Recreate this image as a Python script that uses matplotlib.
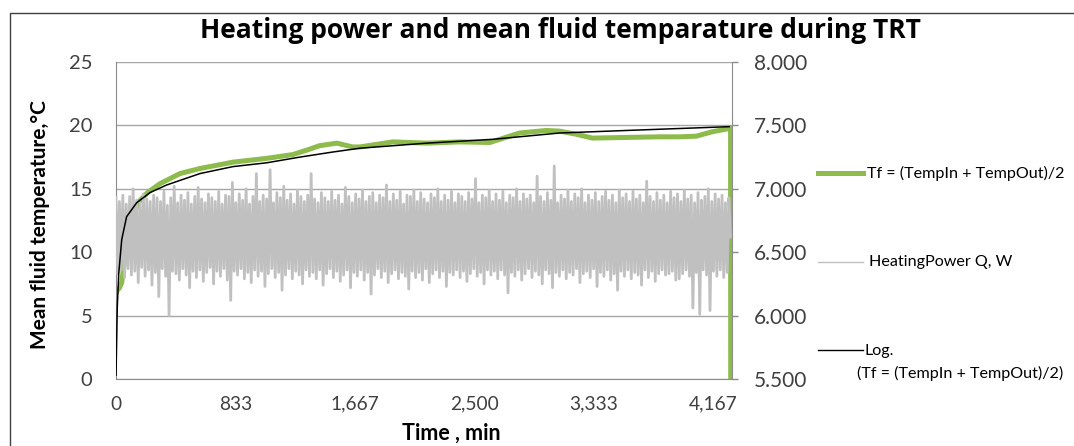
import numpy as np
import matplotlib
matplotlib.use("Agg")
import matplotlib.pyplot as plt
from matplotlib.lines import Line2D
from matplotlib.patches import Rectangle

plt.rcParams['font.family'] = ['Lato', 'DejaVu Sans']

# ---------------- data ----------------
title = "Heating power and mean fluid temparature during TRT"
ylabel_left = "Mean fluid temperature,°C"
xlabel = "Time , min"

x_ticks = [0, 833, 1667, 2500, 3333, 4167]
x_tick_labels = ["0", "833", "1,667", "2,500", "3,333", "4,167"]
left_ticks = [0, 5, 10, 15, 20, 25]
right_ticks = [5500, 6000, 6500, 7000, 7500, 8000]
right_tick_labels = ["5.500", "6.000", "6.500", "7.000", "7.500", "8.000"]

# mean fluid temperature Tf
tf_time = [0, 10, 25, 40, 60, 100, 153, 220, 306, 446, 585, 815, 1050, 1233, 1330,
           1420, 1540, 1650, 1700, 1930, 2166, 2396, 2605, 2675, 2814, 3000, 3092,
           3210, 3322, 3558, 3790, 3928, 4046, 4158, 4275, 4285, 4286]
tf_value = [6.8, 7.0, 7.2, 7.6, 9.5, 12.0, 13.9, 14.7, 15.4, 16.2, 16.6, 17.1, 17.4,
            17.7, 18.05, 18.4, 18.6, 18.3, 18.3, 18.7, 18.6, 18.7, 18.65, 18.9, 19.4,
            19.6, 19.55, 19.3, 19.0, 19.05, 19.1, 19.1, 19.15, 19.5, 19.75, 19.8, 0.0]

# logarithmic trend line
log_time = [0, 9, 19, 40, 74, 144, 237, 353, 585, 815, 1050, 1282, 1511, 1700, 2166,
            2625, 3092, 3558, 4275]
log_value = [0.3, 5.7, 8.3, 11.0, 12.8, 13.9, 14.7, 15.3, 16.2, 16.75, 17.05, 17.5,
             17.9, 18.2, 18.6, 18.9, 19.4, 19.6, 19.9]

# heating power Q, W (hand-read samples of the noisy trace)
power_end_time = 4285
heating_power = [
    6930, 6330, 6900, 6360, 6950, 6300, 6880, 6370, 6940, 6320, 7000, 6350, 6910, 6260, 6890, 6380, 6960, 6310, 6920, 6360,
    6900, 6240, 6950, 6340, 6930, 6150, 6900, 6370, 6980, 6310, 6870, 6000, 6930, 6350, 7020, 6330, 6890, 6280, 6950, 6370,
    6910, 6320, 6970, 6220, 6880, 6350, 6940, 6300, 7010, 6360, 6920, 6270, 6890, 6340, 6960, 6380, 6930, 6250, 6900, 6350,
    6980, 6310, 6880, 6370, 6950, 6280, 6940, 6120, 7050, 6350, 6890, 6320, 6960, 6370, 6910, 6290, 7000, 6340, 6880, 6260,
    6940, 6360, 7120, 6310, 6900, 6350, 6950, 6230, 6920, 6330, 7150, 6370, 6890, 6300, 6970, 6340, 6930, 6200, 7020, 6320,
    6910, 6370, 6960, 6290, 6880, 6350, 6990, 6320, 6940, 6250, 6900, 6360, 6950, 6310, 7120, 6340, 6920, 6290, 6890, 6360,
    6970, 6240, 6930, 6330, 6900, 6370, 6980, 6300, 6910, 6350, 6950, 6270, 6880, 6320, 7010, 6360, 6940, 6220, 6890, 6340,
    6960, 6310, 6920, 6360, 6990, 6280, 6900, 6340, 6940, 6170, 6970, 6320, 6890, 6370, 6950, 6300, 6930, 6350, 7030, 6260,
    6900, 6330, 6960, 6360, 6910, 6290, 6980, 6340, 6880, 6310, 6950, 6210, 6940, 6350, 6990, 6300, 6900, 6340, 6970, 6280,
    6920, 6370, 6890, 6260, 6960, 6330, 6930, 6360, 7000, 6300, 6900, 6350, 6950, 6230, 6910, 6340, 6980, 6320, 6890, 6360,
    6960, 6300, 6940, 6350, 6900, 6270, 6970, 6330, 6920, 6370, 7080, 6310, 6890, 6340, 6950, 6250, 6930, 6360, 6990, 6320,
    6900, 6350, 6960, 6290, 6910, 6360, 6980, 6320, 6890, 6180, 6950, 6340, 6930, 6310, 7000, 6360, 6900, 6280, 6960, 6330,
    6920, 6370, 6950, 6300, 6890, 6350, 7100, 6320, 6940, 6250, 6900, 6360, 6970, 6330, 6910, 6220, 7180, 6340, 6890, 6310,
    6950, 6360, 6920, 6290, 6990, 6340, 6900, 6320, 6960, 6370, 6930, 6260, 7000, 6330, 6890, 6350, 6950, 6300, 6910, 6370,
    6970, 6230, 6900, 6340, 6940, 6310, 6980, 6360, 6910, 6280, 6950, 6330, 6890, 6200, 6990, 6350, 6930, 6310, 6960, 6360,
    6900, 6290, 6980, 6340, 6920, 6320, 6950, 6240, 6890, 6360, 7060, 6300, 6940, 6350, 6900, 6270, 6970, 6330, 6910, 6360,
    6950, 6320, 6890, 6330, 6980, 6350, 6930, 6280, 6960, 6290, 6900, 6330, 6990, 6360, 6920, 6310, 6950, 6060, 6890, 6340,
    6970, 6010, 6910, 6360, 6940, 6320, 7000, 6040, 6900, 6350, 6960, 6310, 6920, 6360, 6950, 6300, 6890, 6340, 6930, 6620,
]

legend_labels = ["Tf = (TempIn + TempOut)/2", "HeatingPower Q, W",
                 "Log.", "(Tf = (TempIn + TempOut)/2)"]

# ---------------- style ----------------
GREEN = "#8DBB4C"
GRAY = "#C0C0C0"
AXIS_GRAY = "#8C8C8C"
TXT = "#404040"
TITLE_FONT = ['Open Sans', 'DejaVu Sans']

W, H = 1074, 446
fig = plt.figure(figsize=(W / 100, H / 100), dpi=100)

left_px, right_px, top_px, bottom_px = 116, 732, 62, 379
rect = [left_px / W, 1 - bottom_px / H, (right_px - left_px) / W, (bottom_px - top_px) / H]
ax = fig.add_axes(rect)
ax2 = ax.twinx()
ax3 = ax.twinx()

power_time = np.linspace(0, power_end_time, len(heating_power))

ax.plot(tf_time, tf_value, color=GREEN, lw=3.6, solid_joinstyle='round', zorder=2)
ax2.plot(power_time, heating_power, color=GRAY, lw=2.0, zorder=2)
ax3.plot(log_time, log_value, color="black", lw=1.1, zorder=3)

xmax = 4295
for a in (ax, ax2, ax3):
    a.set_xlim(0, xmax)
    a.patch.set_visible(False)
ax.set_ylim(0, 25)
ax3.set_ylim(0, 25)
ax2.set_ylim(5500, 8000)

# grid
ax.set_yticks(left_ticks)
ax.yaxis.grid(True, color="#A6A6A6", lw=1.0)
ax.set_axisbelow(True)

# spines
for s in ("top", "right"):
    ax.spines[s].set_visible(False)
ax.spines["left"].set_color(AXIS_GRAY)
ax.spines["bottom"].set_color(AXIS_GRAY)
for s in ("top", "left", "bottom"):
    ax2.spines[s].set_visible(False)
ax2.spines["right"].set_color(AXIS_GRAY)
for s in ax3.spines.values():
    s.set_visible(False)
ax3.set_yticks([])
ax3.tick_params(axis="x", bottom=False, labelbottom=False)
ax2.tick_params(axis="x", bottom=False, labelbottom=False)

# ticks
ax.set_xticks(x_ticks)
ax.set_xticklabels(x_tick_labels)
ax.tick_params(axis="x", length=0, pad=12, labelsize=13.8, colors=TXT)
ax.tick_params(axis="y", length=0, pad=17, labelsize=14.5, colors=TXT)
ax2.set_yticks(right_ticks)
ax2.set_yticklabels(right_tick_labels)
ax2.tick_params(axis="y", length=4, width=1, color=AXIS_GRAY, pad=12,
                labelsize=15, labelcolor=TXT)

fig.text(40 / W, 1 - 225 / H, ylabel_left, rotation=90, ha="center", va="center",
         fontsize=15, fontweight="bold", color="black")
fig.text(451 / W, 1 - 433 / H, xlabel, ha="center", va="center",
         fontsize=15.5, fontweight="bold", color="black")
fig.text(560 / W, 1 - 31 / H, title, ha="center", va="center",
         fontsize=19, fontweight="bold", color="black", family=TITLE_FONT)

# legend (manual, to match the spread-out Excel legend)
def leg_line(y, color, lw):
    fig.add_artist(Line2D([818 / W, 863 / W], [1 - y / H, 1 - y / H], color=color, lw=lw))

leg_line(173, GREEN, 3.6)
leg_line(262, GRAY, 1.0)
leg_line(350, "black", 1.0)
fs_leg = 11.6
fig.text(867 / W, 1 - 173 / H, legend_labels[0], ha="left", va="center", fontsize=fs_leg, color="black")
fig.text(869 / W, 1 - 262 / H, legend_labels[1], ha="left", va="center", fontsize=fs_leg, color="black")
fig.text(865 / W, 1 - 351 / H, legend_labels[2], ha="left", va="center", fontsize=fs_leg, color="black")
fig.text(857 / W, 1 - 373 / H, legend_labels[3], ha="left", va="center", fontsize=fs_leg, color="black")

# chart-area frame (cropped on the right and bottom in the original)
fig.add_artist(Rectangle((9.5 / W, -0.05), 1.2, 1 - 12.7 / H + 0.05, transform=fig.transFigure,
                         fill=False, edgecolor="#404040", lw=1.0))

fig.savefig("out.png", dpi=100)
